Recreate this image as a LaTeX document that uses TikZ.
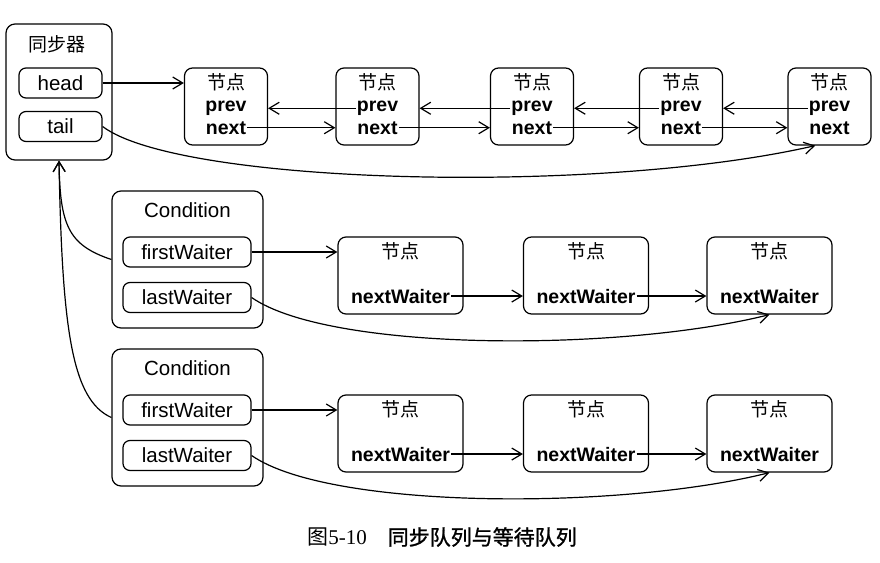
\documentclass[tikz,border=0pt]{standalone}
\usepackage{fontspec}
\setmainfont{Liberation Sans}
\newfontfamily\cjk{Noto Sans CJK SC}
\newfontfamily\cjkcap[FakeBold=1.2]{Noto Sans CJK SC}
\newfontfamily\capserif{Liberation Serif}
\usepackage{tikz}
\usetikzlibrary{arrows.meta,positioning,calc}
\tikzset{
  holder/.style={draw, rounded corners=9pt, line width=1.2pt, inner sep=0pt},
  field/.style={draw, rounded corners=7pt, line width=1.2pt, minimum height=30pt, inner sep=0pt, font=\fontsize{20.5}{24}\selectfont},
  qnode/.style={draw, rounded corners=8pt, line width=1.2pt, minimum width=83pt, minimum height=77pt, inner sep=0pt},
  wnode/.style={qnode, minimum width=125pt},
  cjktext/.style={inner sep=0pt, font=\cjk\fontsize{19}{22}\selectfont},
  plaintext/.style={inner sep=0pt, font=\fontsize{20.5}{24}\selectfont},
  fieldname/.style={anchor=base, inner sep=1pt, font=\bfseries\fontsize{19.5}{22}\selectfont},
  ptr/.style={-{Straight Barb[length=10pt,width=12pt]}, line width=1.2pt}
}
\begin{document}
\begin{tikzpicture}[x=1pt,y=-1pt]
\useasboundingbox (0,0) rectangle (880,562);
% synchronizer
\node[holder, minimum width=106pt, minimum height=136pt] (sync) at (59,92) {};
\node[cjktext] (synctitle) at (57,44) {同步器};
\node[field, minimum width=83pt] (head) at (60.5,83) {head};
\node[field, minimum width=83pt] (tail) at (60.5,126.5) {tail};
% sync queue
\node[qnode] (n1) at (226,106.5) {};
\node[qnode] (n2) at (377.5,106.5) {};
\node[qnode] (n3) at (532,106.5) {};
\node[qnode] (n4) at (681,106.5) {};
\node[qnode] (n5) at (829.5,106.5) {};
\node[cjktext] (n1t) at (226,82) {节点};
\node[cjktext] (n2t) at (377.5,82) {节点};
\node[cjktext] (n3t) at (532,82) {节点};
\node[cjktext] (n4t) at (681,82) {节点};
\node[cjktext] (n5t) at (829.5,82) {节点};
\node[fieldname] (n1p) at (226,111.5) {prev};
\node[fieldname] (n2p) at (377.5,111.5) {prev};
\node[fieldname] (n3p) at (532,111.5) {prev};
\node[fieldname] (n4p) at (681,111.5) {prev};
\node[fieldname] (n5p) at (829.5,111.5) {prev};
\node[fieldname] (n1n) at (226,134) {next};
\node[fieldname] (n2n) at (377.5,134) {next};
\node[fieldname] (n3n) at (532,134) {next};
\node[fieldname] (n4n) at (681,134) {next};
\node[fieldname] (n5n) at (829.5,134) {next};
\draw[ptr] (head.east) -- (head.east -| n1.west);
\draw[ptr] (n1n.east) -- (n1n.east -| n2.west);
\draw[ptr] (n2n.east) -- (n2n.east -| n3.west);
\draw[ptr] (n3n.east) -- (n3n.east -| n4.west);
\draw[ptr] (n4n.east) -- (n4n.east -| n5.west);
\draw[ptr] (n2p.west) -- (n2p.west -| n1.east);
\draw[ptr] (n3p.west) -- (n3p.west -| n2.east);
\draw[ptr] (n4p.west) -- (n4p.west -| n3.east);
\draw[ptr] (n5p.west) -- (n5p.west -| n4.east);
\draw[ptr] (tail.east) .. controls (180,185) and (600,195) .. (n5.250);
% first condition queue
\node[holder, minimum width=151pt, minimum height=137pt] (cond1) at (187.5,259.5) {};
\node[plaintext] (cond1t) at (187.5,210) {Condition};
\node[field, minimum width=128pt] (first1) at (187,252) {firstWaiter};
\node[field, minimum width=128pt] (last1) at (187,297.5) {lastWaiter};
\node[wnode] (w11) at (400.5,275.5) {};
\node[wnode] (w12) at (586,275.5) {};
\node[wnode] (w13) at (769.5,275.5) {};
\node[cjktext] (w11t) at (400.5,251) {节点};
\node[cjktext] (w12t) at (586,251) {节点};
\node[cjktext] (w13t) at (769.5,251) {节点};
\node[fieldname] (w11n) at (400.5,303) {nextWaiter};
\node[fieldname] (w12n) at (586,303) {nextWaiter};
\node[fieldname] (w13n) at (769.5,303) {nextWaiter};
\draw[ptr] (first1.east) -- (first1.east -| w11.west);
\draw[ptr] (w11n.east) -- (w11n.east -| w12.west);
\draw[ptr] (w12n.east) -- (w12n.east -| w13.west);
\draw[ptr] (last1.east) .. controls (330,352) and (620,352) .. (w13.south);
% second condition queue
\node[holder, minimum width=151pt, minimum height=137pt] (cond2) at (187.5,417.5) {};
\node[plaintext] (cond2t) at (187.5,368) {Condition};
\node[field, minimum width=128pt] (first2) at (187,410) {firstWaiter};
\node[field, minimum width=128pt] (last2) at (187,455.5) {lastWaiter};
\node[wnode] (w21) at (400.5,433.5) {};
\node[wnode] (w22) at (586,433.5) {};
\node[wnode] (w23) at (769.5,433.5) {};
\node[cjktext] (w21t) at (400.5,409) {节点};
\node[cjktext] (w22t) at (586,409) {节点};
\node[cjktext] (w23t) at (769.5,409) {节点};
\node[fieldname] (w21n) at (400.5,461) {nextWaiter};
\node[fieldname] (w22n) at (586,461) {nextWaiter};
\node[fieldname] (w23n) at (769.5,461) {nextWaiter};
\draw[ptr] (first2.east) -- (first2.east -| w21.west);
\draw[ptr] (w21n.east) -- (w21n.east -| w22.west);
\draw[ptr] (w22n.east) -- (w22n.east -| w23.west);
\draw[ptr] (last2.east) .. controls (330,510) and (620,510) .. (w23.south);
% back to the synchronizer
\draw[ptr] (cond1.west) .. controls (68,245) and (60,225) .. (sync.south);
\draw[ptr] (cond2.west) .. controls (72,400) and (62,330) .. (sync.south);
\node[font=\fontsize{21}{24}\selectfont] (caption) at (442,537) {{\cjk 图}{\capserif 5-10}\quad{\cjkcap 同步队列与等待队列}};
\end{tikzpicture}
\end{document}
